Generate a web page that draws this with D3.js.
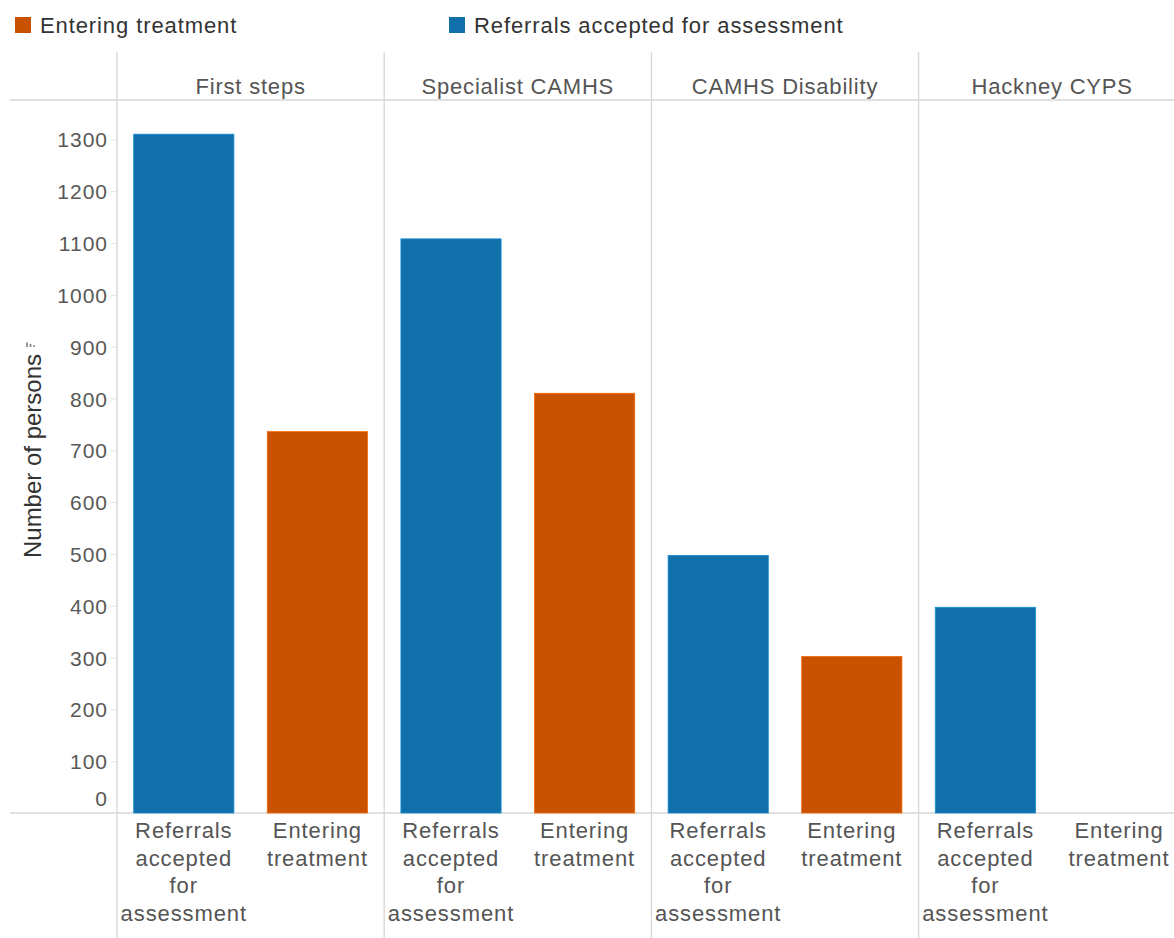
<!DOCTYPE html>
<html>
<head>
<meta charset="utf-8">
<script src="https://cdn.jsdelivr.net/npm/d3@7"></script>
<style>
  html, body { margin: 0; padding: 0; background: #fff; }
  svg { display: block; }
</style>
</head>
<body>
<svg id="chart" width="1174" height="938" font-family="Liberation Sans, Arial, sans-serif"></svg>
<script>
// Services shown as column panels
const services = ["First steps", "Specialist CAMHS", "CAMHS Disability", "Hackney CYPS"];
// Measures within each panel
const measures = ["Referrals accepted for assessment", "Entering treatment"];
// Number of persons per service
const referralsAccepted = [1310, 1108, 497, 397];
const enteringTreatment = [736, 810, 302, 0];
// Axis ticks
const yTicks = [0, 100, 200, 300, 400, 500, 600, 700, 800, 900, 1000, 1100, 1200, 1300];
// Wrapped measure labels under each bar
const measureLabelLines = {
  "Referrals accepted for assessment": ["Referrals", "accepted", "for", "assessment"],
  "Entering treatment": ["Entering", "treatment"]
};
// Legend entries
const legendItems = ["Entering treatment", "Referrals accepted for assessment"];

const colors = {
  "Referrals accepted for assessment": "#1170aa",
  "Entering treatment": "#c85200"
};

const FONT = "Liberation Sans, Arial, sans-serif";

const rows = [];
services.forEach((s, i) => {
  rows.push({ service: s, measure: measures[0], value: referralsAccepted[i] });
  rows.push({ service: s, measure: measures[1], value: enteringTreatment[i] });
});

const svg = d3.select("#chart");
const W = 1174, H = 938;
const gridColor = "#d6d6d6";

const paneLeft = 117, panelW = 267.2;
const headerTop = 52, paneTop = 100, paneBottom = 813;

const x0 = d3.scaleBand().domain(services)
  .range([paneLeft, paneLeft + panelW * services.length]);
const x1 = d3.scaleBand().domain(measures)
  .range([0, panelW]).paddingInner(0.25).paddingOuter(0.125);
const y = d3.scaleLinear().domain([0, 1376]).range([paneBottom, paneTop]);

// Legend
const legX = [15, 449];
legendItems.forEach((name, i) => {
  const g = svg.append("g").attr("transform", `translate(${legX[i]},0)`);
  g.append("rect").attr("x", 0).attr("y", 17).attr("width", 16).attr("height", 16)
    .attr("fill", colors[name]);
  g.append("text").attr("x", 25).attr("y", 32.5)
    .attr("font-size", 22).attr("letter-spacing", 0.9)
    .attr("fill", "#333").text(name);
});

// Horizontal rules: header bottom and zero line
[paneTop, paneBottom].forEach(yy => {
  svg.append("line").attr("x1", 10).attr("x2", W).attr("y1", yy).attr("y2", yy)
    .attr("stroke", gridColor).attr("stroke-width", 1.3);
});

// Panel dividers
services.forEach(s => {
  svg.append("line")
    .attr("x1", x0(s)).attr("x2", x0(s))
    .attr("y1", headerTop).attr("y2", H)
    .attr("stroke", gridColor).attr("stroke-width", 1.3);
});

// Panel headers
svg.append("g").selectAll("text").data(services).join("text")
  .attr("x", d => x0(d) + panelW / 2)
  .attr("y", 94)
  .attr("text-anchor", "middle")
  .attr("font-size", 22).attr("letter-spacing", 0.8)
  .attr("fill", "#555")
  .text(d => d);

// Y axis
const yAxis = d3.axisLeft(y).tickValues(yTicks).tickFormat(d3.format("d"))
  .tickSize(6).tickPadding(3);
const ax = svg.append("g").attr("transform", `translate(${paneLeft},0)`)
  .call(yAxis).attr("font-family", FONT);
ax.select(".domain").remove();
ax.selectAll(".tick line").attr("stroke", "#e2e2e2").attr("stroke-width", 1);
ax.selectAll(".tick text")
  .attr("font-size", 21).attr("letter-spacing", 1.0)
  .attr("fill", "#585858")
  .attr("x", -9)
  .attr("dy", d => d === 0 ? "-0.35em" : "0.36em");

// Y axis title
svg.append("text")
  .attr("transform", `translate(41,456) rotate(-90)`)
  .attr("text-anchor", "middle")
  .attr("font-size", 24)
  .attr("fill", "#333")
  .text("Number of persons");

// Sort indicator next to the title
const sortIcon = svg.append("g").attr("fill", "#8a8a8a");
[[26, 342.5, 4.5], [29.6, 344, 3], [33.2, 345.3, 1.7]].forEach(([ix, iy, ih]) => {
  sortIcon.append("rect").attr("x", ix).attr("y", iy).attr("width", 1.8).attr("height", ih);
});

// Bars
svg.append("g").selectAll("rect").data(rows.filter(d => d.value > 0)).join("rect")
  .attr("x", d => x0(d.service) + x1(d.measure))
  .attr("y", d => y(d.value))
  .attr("width", x1.bandwidth())
  .attr("height", d => y(0) - y(d.value))
  .attr("fill", d => colors[d.measure])
  .attr("stroke", d => d3.color(colors[d.measure]).brighter(0.6))
  .attr("stroke-width", 0.8);

// Measure labels below the zero line
const lab = svg.append("g");
rows.forEach(d => {
  const cx = x0(d.service) + x1(d.measure) + x1.bandwidth() / 2;
  const t = lab.append("text")
    .attr("text-anchor", "middle")
    .attr("font-size", 22).attr("letter-spacing", 0.9)
    .attr("fill", "#555");
  measureLabelLines[d.measure].forEach((line, k) => {
    t.append("tspan").attr("x", cx).attr("y", 838.4 + k * 27.5).text(line);
  });
});
</script>
</body>
</html>
